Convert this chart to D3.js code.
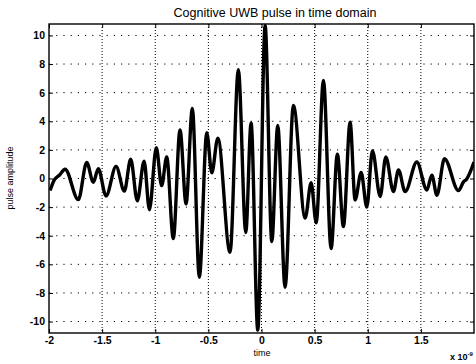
<!DOCTYPE html>
<html>
<head>
<meta charset="utf-8">
<script src="https://cdn.jsdelivr.net/npm/d3@7"></script>
<style>
  body { margin: 0; background: #ffffff; }
  svg { display: block; }
</style>
</head>
<body>
<div id="chart"></div>
<script>
// time axis (x 10^-9 s) and pulse amplitude
var timeValues = [
  -1.99, -1.95, -1.90, -1.849, -1.724, -1.645, -1.583, -1.536, -1.463, -1.369,
  -1.291, -1.231, -1.169, -1.105, -1.055, -0.990, -0.940, -0.892, -0.830, -0.767,
  -0.710, -0.651, -0.585, -0.515, -0.468, -0.411, -0.296, -0.218, -0.148, -0.098,
  -0.035, 0.034, 0.097, 0.153, 0.222, 0.300, 0.411, 0.467, 0.515, 0.583,
  0.655, 0.714, 0.771, 0.834, 0.881, 0.938, 0.991, 1.044, 1.117, 1.170,
  1.242, 1.289, 1.352, 1.462, 1.556, 1.603, 1.651, 1.722, 1.854, 1.90,
  1.93, 2.0
];
var amplitudeValues = [
  -0.84, -0.1, 0.25, 0.65, -1.48, 1.12, -0.26, 0.68, -1.22, 0.85,
  -0.88, 1.35, -1.56, 1.21, -2.18, 2.15, -0.5, 1.5, -4.2, 3.4,
  -1.77, 4.9, -6.9, 3.2, 0.4, 2.82, -5.16, 7.6, -3.77, 3.88,
  -10.6, 10.7, -4.4, 3.7, -7.6, 5.1, -2.77, -0.3, -3.1, 6.86,
  -4.9, 1.7, -3.36, 3.93, -1.5, 0.42, -2.0, 1.95, -1.26, 1.5,
  -0.92, 0.6, -0.92, 1.15, -0.8, 0.23, -1.17, 1.38, -0.85, -0.25,
  -0.05, 1.15
];
var xTicks = [-2, -1.5, -1, -0.5, 0, 0.5, 1, 1.5];
var yTicks = [-10, -8, -6, -4, -2, 0, 2, 4, 6, 8, 10];

drawPulse();

function drawPulse() {
    var w = 476, h = 364;
    var pLeft = 49, pRight = 474, pTop = 24, pBottom = 333;
    var font = "Liberation Sans, Arial, sans-serif";

    var svg = d3.select("#chart").append("svg")
        .attr("width", w).attr("height", h)
        .style("background", "#ffffff");

    var x = d3.scaleLinear().domain([-2, 2]).range([pLeft, pRight]);
    var y = d3.scaleLinear().domain([-10.8, 10.8]).range([pBottom, pTop]);

    // grid (dotted)
    svg.append("g").selectAll("line").data(xTicks.slice(1)).enter()
        .append("line")
        .attr("x1", function(d) { return x(d); }).attr("x2", function(d) { return x(d); })
        .attr("y1", pTop).attr("y2", pBottom)
        .attr("stroke", "#000").attr("stroke-width", 1)
        .attr("stroke-dasharray", "1,2");
    svg.append("g").selectAll("line").data(yTicks).enter()
        .append("line")
        .attr("x1", pLeft).attr("x2", pRight)
        .attr("y1", function(d) { return y(d); }).attr("y2", function(d) { return y(d); })
        .attr("stroke", "#000").attr("stroke-width", 1)
        .attr("stroke-dasharray", "1.2,6");

    // axes, ticks pointing inward
    var fmt = function(d) { return String(d); };
    svg.append("g").attr("transform", "translate(0," + pBottom + ")")
        .call(d3.axisBottom(x).tickValues(xTicks).tickSize(-4).tickPadding(4).tickFormat(fmt));
    svg.append("g").attr("transform", "translate(" + pLeft + ",0)")
        .call(d3.axisLeft(y).tickValues(yTicks).tickSize(-4).tickPadding(4).tickFormat(fmt));
    svg.append("g").attr("transform", "translate(0," + pTop + ")")
        .call(d3.axisTop(x).tickValues(xTicks).tickSize(-4).tickFormat(""));
    svg.append("g").attr("transform", "translate(" + pRight + ",0)")
        .call(d3.axisRight(y).tickValues(yTicks).tickSize(-4).tickFormat(""));
    svg.selectAll(".domain").remove();
    svg.selectAll(".tick line").attr("stroke", "#000");
    svg.selectAll(".tick text")
        .attr("fill", "#000")
        .attr("font-family", font)
        .attr("font-size", "10.5px")
        .attr("font-weight", "bold");

    // the pulse
    var data = timeValues.map(function(t, i) { return [t, amplitudeValues[i]]; });
    svg.append("clipPath").attr("id", "plotclip")
        .append("rect").attr("x", pLeft).attr("y", pTop)
        .attr("width", pRight - pLeft).attr("height", pBottom - pTop);
    svg.append("path")
        .datum(data)
        .attr("clip-path", "url(#plotclip)")
        .attr("fill", "none")
        .attr("stroke", "#000")
        .attr("stroke-width", 3.4)
        .attr("stroke-linejoin", "round")
        .attr("d", d3.line()
            .x(function(d) { return x(d[0]); })
            .y(function(d) { return y(d[1]); })
            .curve(d3.curveMonotoneX));

    // box
    svg.append("rect")
        .attr("x", pLeft).attr("y", pTop)
        .attr("width", pRight - pLeft).attr("height", pBottom - pTop)
        .attr("fill", "none").attr("stroke", "#000").attr("stroke-width", 1.4);

    // labels
    svg.append("text")
        .attr("x", 275).attr("y", 17)
        .attr("text-anchor", "middle")
        .attr("font-family", font)
        .attr("font-size", "12.5px")
        .text("Cognitive UWB pulse in time domain");
    svg.append("text")
        .attr("x", 262).attr("y", 356)
        .attr("text-anchor", "middle")
        .attr("font-family", font)
        .attr("font-size", "9px")
        .text("time");
    svg.append("text")
        .attr("transform", "translate(13,178) rotate(-90)")
        .attr("text-anchor", "middle")
        .attr("font-family", font)
        .attr("font-size", "9px")
        .text("pulse amplitude");
    var mult = svg.append("text")
        .attr("x", 450).attr("y", 360)
        .attr("font-family", font)
        .attr("font-size", "9px")
        .attr("font-weight", "bold")
        .text("x 10");
    mult.append("tspan")
        .attr("dy", -4)
        .attr("font-size", "6px")
        .text("-9");
}
</script>
</body>
</html>
